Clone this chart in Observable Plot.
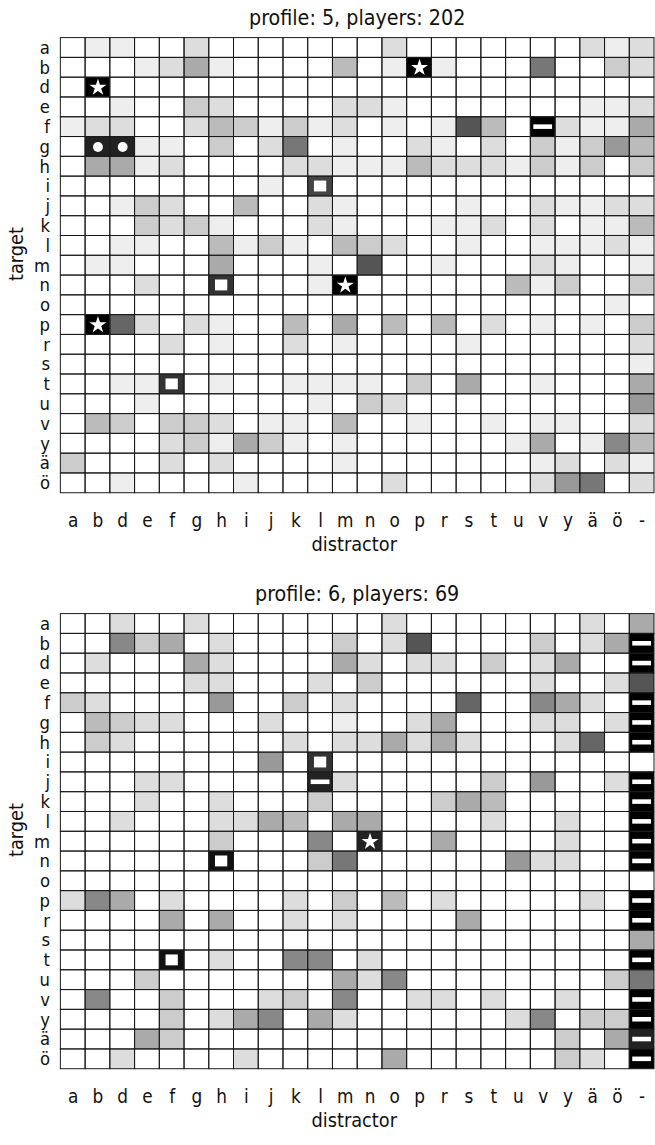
<!DOCTYPE html>
<html><head><meta charset="utf-8">
<script src="https://cdn.jsdelivr.net/npm/d3@7"></script>
<script src="https://cdn.jsdelivr.net/npm/@observablehq/plot@0.6"></script>
<style>
html,body{margin:0;padding:0;background:#fff;overflow:hidden;}
#chart svg{display:block;}
</style></head><body><div id="chart"></div>
<script>
// rows (target) and columns (distractor)
const targets = ["a","b","d","e","f","g","h","i","j","k","l","m","n","o","p","r","s","t","u","v","y","ä","ö"];
const distractors = ["a","b","d","e","f","g","h","i","j","k","l","m","n","o","p","r","s","t","u","v","y","ä","ö","-"];

// shading level per cell (hex digit 0 = white … f = black), one string per target row
const profile5Levels = [
  "011002000000020000000212",
  "00012510000401f100080032",
  "0f0000000000000000000000",
  "001003200002210000000112",
  "1220024313120101a40f2115",
  "0dd110302801002102031364",
  "055120000221114222131303",
  "0000000010b0000000000000",
  "001320040021000010021122",
  "000323100021000112020114",
  "001100413104320010011121",
  "011000500010a00100021001",
  "000200c0001f000000413003",
  "000000000000000000000010",
  "0f9202100405040402010103",
  "000020100201000010000002",
  "000000000000000000000001",
  "0011c0100111103050010005",
  "000100000010320000000006",
  "043033201104001001011002",
  "000023153101000000150174",
  "300020200001000000012021",
  "001000010000020000026802"
];
const profile6Levels = [
  "002002000000020000000205",
  "00735020000302a00003025f",
  "02000520000520220302500f",
  "00000220002030000002002a",
  "32000060030200009007520f",
  "04322000200100250002202f",
  "03200000020225252000290f",
  "0000000060c0000000000000",
  "0002200000d200000306002f",
  "00020020003000035400000f",
  "00200022540550000200200f",
  "000000300070d0050000200f",
  "000000e0003800000062200f",
  "000000000000000000000000",
  "27502000020304020000020f",
  "00005050020200005000000f",
  "000000000000000000000005",
  "0000e020077020000000000f",
  "000300000005270000000038",
  "07003000230700220200200f",
  "00003025705200000027033f",
  "00053000000000000000305d",
  "00200002000005000000320f"
];

// marked cells: [target, distractor, symbol]
const profile5Symbols = [
  ["b","p","star"], ["d","b","star"], ["f","v","dash"], ["g","b","circle"], ["g","d","circle"],
  ["i","l","square"], ["n","h","square"], ["n","m","star"], ["p","b","star"], ["t","f","square"]
];
const profile6Symbols = [
  ["i","l","square"], ["j","l","dash"], ["m","n","star"], ["n","h","square"], ["t","f","square"],
  ["b","-","dash"], ["d","-","dash"], ["f","-","dash"], ["g","-","dash"], ["h","-","dash"],
  ["j","-","dash"], ["k","-","dash"], ["l","-","dash"], ["m","-","dash"], ["n","-","dash"],
  ["p","-","dash"], ["r","-","dash"], ["t","-","dash"], ["v","-","dash"], ["y","-","dash"],
  ["ä","-","dash"], ["ö","-","dash"]
];

const titles = ["profile: 5, players: 202", "profile: 6, players: 69"];
const xLabel = "distractor";
const yLabel = "target";

const FONT = '"Liberation Sans Narrow", "DejaVu Sans Condensed", "Liberation Sans", sans-serif';

function panel(title, levels, symbols, height, marginBottom) {
  const cells = [];
  targets.forEach((t, i) => distractors.forEach((d, j) =>
    cells.push({target: t, distractor: d, level: parseInt(levels[i][j], 16)})));
  const sym = symbols.map(([target, distractor, shape]) => ({target, distractor, shape}));
  const of = (s) => sym.filter((d) => d.shape === s);
  return Plot.plot({
    width: 662, height,
    marginTop: 30, marginBottom, marginLeft: 59, marginRight: 0,
    style: {fontFamily: FONT, fontSize: "19px", color: "#111", background: "#fff", overflow: "visible"},
    x: {domain: distractors, padding: 0, label: null},
    y: {domain: targets, padding: 0, label: null},
    color: {type: "linear", domain: [0, 15], range: ["#ffffff", "#000000"]},
    marks: [
      Plot.cell(cells, {x: "distractor", y: "target", fill: "level"}),
      Plot.cell(cells, {x: "distractor", y: "target", fill: "none", stroke: "#1a1a1a", strokeWidth: 1}),
      Plot.dot(of("star"), {x: "distractor", y: "target", symbol: "star", r: 5.4, fill: "white", stroke: "none"}),
      Plot.dot(of("circle"), {x: "distractor", y: "target", symbol: "circle", r: 5, fill: "white", stroke: "none"}),
      Plot.cell(of("square"), {x: "distractor", y: "target", fill: "white", insetLeft: 6.3, insetRight: 6.3, insetTop: 4.5, insetBottom: 4.5}),
      Plot.cell(of("dash"), {x: "distractor", y: "target", fill: "white", insetLeft: 3, insetRight: 3, insetTop: 7.7, insetBottom: 7.7}),
      Plot.axisX({tickSize: 0, tickPadding: 12, fontSize: 19}),
      Plot.axisY({tickSize: 0, tickPadding: 9, fontSize: 18.5}),
      Plot.text([xLabel], {frameAnchor: "bottom", text: (d) => d, textAnchor: "middle", dx: -3, dy: 50, lineAnchor: "bottom", fontSize: 20}),
      Plot.text([yLabel], {frameAnchor: "left", text: (d) => d, textAnchor: "middle", rotate: -90, dx: -43, dy: -12, lineAnchor: "middle", fontSize: 20}),
      Plot.text([title], {frameAnchor: "top", text: (d) => d, textAnchor: "middle", dy: -5, lineAnchor: "bottom", fontSize: 21.5})
    ]
  });
}

const root = document.getElementById("chart");
root.append(panel(titles[0], profile5Levels, profile5Symbols, 582, 75.5));
root.append(panel(titles[1], profile6Levels, profile6Symbols, 563, 56.5));
</script>
</body></html>
